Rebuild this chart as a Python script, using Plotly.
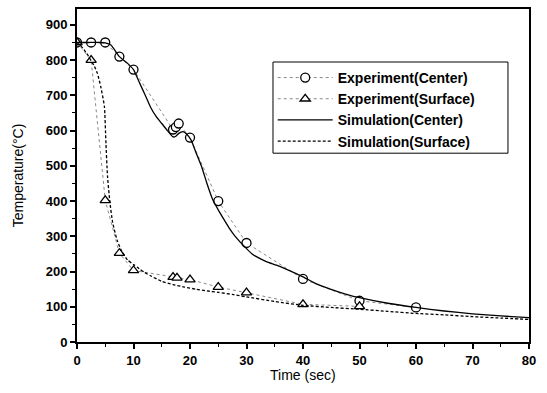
import plotly.graph_objects as go

exp_center_t = [0, 2.5, 5, 7.5, 10, 17, 17.5, 18, 20, 25, 30, 40, 50, 60]
exp_center_T = [850, 850, 850, 810, 773, 603, 610, 620, 580, 400, 281, 179, 117, 98]

exp_surface_t = [0, 2.5, 5, 7.5, 10, 17, 17.7, 20, 25, 30, 40, 50]
exp_surface_T = [850, 800, 402, 252, 203, 184, 182, 177, 156, 140, 107, 101]

# Simulation curves
sim_center_t = [0, 2, 4, 5, 6, 7.5, 9, 10, 11, 12, 13, 14, 15, 16, 17, 17.5, 18, 18.75, 19.3,
                20.2, 21, 22, 23, 24, 25, 26, 27, 28, 29.7, 31, 32, 33.5, 35.3, 37, 40, 42, 44,
                46, 48, 50, 55, 60, 65, 70, 75, 80]
sim_center_T = [850, 850, 850, 849, 843, 810, 790, 773, 738, 703, 667, 640, 620, 600, 582, 584,
                592, 597, 592, 573, 540, 500, 450, 405, 375, 348, 322, 300, 270, 250, 240, 228,
                218, 207, 185, 168, 155, 144, 134, 126, 110, 98, 88, 80, 74, 69]

sim_surface_t = [0, 1, 2, 2.5, 3, 3.6, 4.2, 4.85, 5.1, 5.4, 5.8, 6.3, 7.1, 8, 9, 10, 11, 12, 13,
                 15, 17, 19, 21, 23, 25, 27.5, 30, 35, 40, 45, 50, 55, 60, 65, 70, 75, 80]
sim_surface_T = [850, 835, 812, 798, 785, 763, 725, 668, 573, 470, 400, 340, 289, 255, 232, 220,
                 208, 197, 188, 172, 163, 156, 150, 145, 141, 135, 128, 115, 104, 98, 93, 87, 81,
                 77, 72, 68, 64]

legend_names = ["Experiment(Center)", "Experiment(Surface)", "Simulation(Center)", "Simulation(Surface)"]

x_ticks = [0, 10, 20, 30, 40, 50, 60, 70, 80]
y_ticks = [0, 100, 200, 300, 400, 500, 600, 700, 800, 900]

FONT = "Liberation Sans, Arial, sans-serif"

fig = go.Figure()
fig.add_trace(go.Scatter(
    x=exp_center_t, y=exp_center_T, name=legend_names[0], mode="lines+markers",
    line=dict(color="#888888", width=1, dash="dot"),
    marker=dict(symbol="circle", size=9, color="white", line=dict(color="black", width=1.3)),
))
fig.add_trace(go.Scatter(
    x=exp_surface_t, y=exp_surface_T, name=legend_names[1], mode="lines+markers",
    line=dict(color="#888888", width=1, dash="dot"),
    marker=dict(symbol="triangle-up", size=9, color="white", line=dict(color="black", width=1.3)),
))
fig.add_trace(go.Scatter(
    x=sim_center_t, y=sim_center_T, name=legend_names[2], mode="lines",
    line=dict(color="black", width=1.3, shape="spline", smoothing=0.5),
))
fig.add_trace(go.Scatter(
    x=sim_surface_t, y=sim_surface_T, name=legend_names[3], mode="lines",
    line=dict(color="black", width=1.3, dash="3px,2px", shape="spline", smoothing=0.5),
))

axis_common = dict(
    showline=True, linecolor="black", linewidth=2, mirror=True,
    ticks="outside", ticklen=5, tickwidth=1.5, tickcolor="black",
    showgrid=False, zeroline=False,
    tickfont=dict(family=FONT, size=13, color="black", weight="bold"),
)

fig.update_xaxes(
    range=[0, 80], tickvals=x_ticks, ticktext=[str(v) for v in x_ticks],
    minor=dict(dtick=5, ticklen=3, ticks="outside", tickcolor="black", tickwidth=1),
    **axis_common,
)
fig.update_yaxes(
    range=[0, 945], tickvals=y_ticks, ticktext=[str(v) for v in y_ticks],
    minor=dict(dtick=50, ticklen=3, ticks="outside", tickcolor="black", tickwidth=1),
    **axis_common,
)

fig.add_annotation(
    text="Time (sec)", xref="paper", yref="paper", x=0.5, y=-0.1,
    xanchor="center", yanchor="middle", showarrow=False,
    font=dict(family=FONT, size=14, color="black"),
)
fig.add_annotation(
    text="Temperature(°C)", xref="paper", yref="paper", x=-0.131, y=0.5,
    xanchor="center", yanchor="middle", textangle=-90, showarrow=False,
    font=dict(family=FONT, size=14, color="black"),
)

# legend frame (drawn as a shape so it keeps the reference's wider box)
fig.add_shape(
    type="rect", xref="paper", yref="paper", x0=0.4336, x1=0.9535, y0=0.567, y1=0.8408,
    line=dict(color="black", width=1), fillcolor="white", layer="above",
)

fig.update_layout(
    width=547, height=393,
    margin=dict(l=77, r=18, t=9, b=51, autoexpand=False),
    plot_bgcolor="white", paper_bgcolor="white",
    font=dict(family=FONT, color="black"),
    legend=dict(
        x=0.433, y=0.841, xanchor="left", yanchor="top",
        borderwidth=0, bgcolor="rgba(0,0,0,0)",
        font=dict(family=FONT, size=14, color="black", weight="bold"),
        itemwidth=55, tracegroupgap=0,
    ),
)

fig.write_html("out.html")
